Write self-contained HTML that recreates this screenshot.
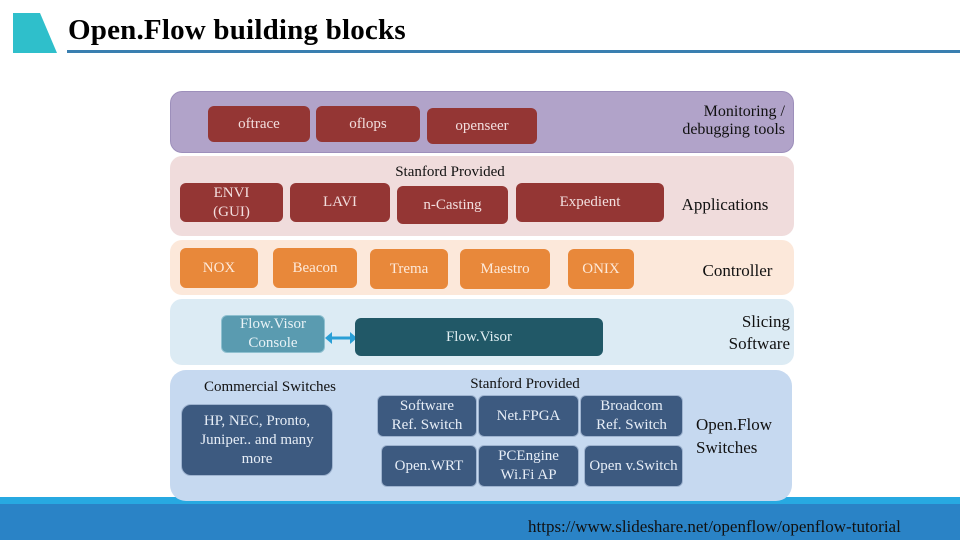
<!DOCTYPE html>
<html><head><meta charset="utf-8"><style>
body{margin:0;width:960px;height:540px;position:relative;background:#fff;overflow:hidden;font-family:"Liberation Serif",serif;}
div{position:absolute;box-sizing:border-box;}
.p{border-radius:12px;}
.b{border-radius:6px;display:flex;align-items:center;justify-content:center;text-align:center;font-size:15px;line-height:19px;}
.r{background:#943634;color:#f2dede;}
.o{background:#e8883a;color:#fde9d9;}
.s{background:#3d5a80;color:#e6edf6;border:1px solid #9fb4d0;}
.t{font-size:16px;color:#111;text-align:center;line-height:20px;}
</style></head><body>
<svg style="position:absolute;left:0;top:0" width="960" height="60"><polygon points="13,13 40,13 57,53 13,53" fill="#2fbfcb"/><rect x="67" y="50" width="893" height="3" fill="#3a7fb0"/></svg>
<div style="left:68px;top:14px;font-size:29px;font-weight:bold;color:#000;letter-spacing:0.2px">Open.Flow building blocks</div>

<div style="left:0;top:497px;width:960px;height:8px;background:#27a9e1"></div>
<div style="left:0;top:504px;width:960px;height:36px;background:#2a83c6"></div>
<div style="left:528px;top:517px;font-size:17px;color:#111;">https://www.slideshare.net/openflow/openflow-tutorial</div>

<div class="p" style="left:170px;top:91px;width:624px;height:62px;background:#b1a3c9;border:1px solid #9d8fbb"></div>
<div class="b r" style="left:208px;top:106px;width:102px;height:36px">oftrace</div>
<div class="b r" style="left:316px;top:106px;width:104px;height:36px">oflops</div>
<div class="b r" style="left:427px;top:108px;width:110px;height:36px">openseer</div>
<div class="t" style="left:640px;top:103px;width:145px;line-height:18px;text-align:right">Monitoring /<br>debugging tools</div>

<div class="p" style="left:170px;top:156px;width:624px;height:80px;background:#f0dcdc"></div>
<div class="t" style="left:370px;top:162px;width:160px;font-size:15px">Stanford Provided</div>
<div class="b r" style="left:180px;top:183px;width:103px;height:39px">ENVI<br>(GUI)</div>
<div class="b r" style="left:290px;top:183px;width:100px;height:39px">LAVI</div>
<div class="b r" style="left:397px;top:186px;width:111px;height:38px">n-Casting</div>
<div class="b r" style="left:516px;top:183px;width:148px;height:39px">Expedient</div>
<div class="t" style="left:660px;top:195px;width:130px;font-size:17px">Applications</div>

<div class="p" style="left:170px;top:240px;width:624px;height:55px;background:#fce8da"></div>
<div class="b o" style="left:180px;top:248px;width:78px;height:40px">NOX</div>
<div class="b o" style="left:273px;top:248px;width:84px;height:40px">Beacon</div>
<div class="b o" style="left:370px;top:249px;width:78px;height:40px">Trema</div>
<div class="b o" style="left:460px;top:249px;width:90px;height:40px">Maestro</div>
<div class="b o" style="left:568px;top:249px;width:66px;height:40px">ONIX</div>
<div class="t" style="left:680px;top:261px;width:115px;font-size:17px">Controller</div>

<div class="p" style="left:170px;top:299px;width:624px;height:66px;background:#dcebf4"></div>
<div class="b" style="left:221px;top:315px;width:104px;height:38px;background:#5a9bb0;color:#e8f2f6;border:1px solid #8fc0d0">Flow.Visor<br>Console</div>
<svg style="position:absolute;left:324px;top:330px" width="34" height="16"><line x1="5" y1="8" x2="29" y2="8" stroke="#2a9fd6" stroke-width="3"/><polygon points="1,8 8,2 8,14" fill="#2a9fd6"/><polygon points="33,8 26,2 26,14" fill="#2a9fd6"/></svg>
<div class="b" style="left:355px;top:318px;width:248px;height:38px;background:#215867;color:#e0eef2">Flow.Visor</div>
<div class="t" style="left:700px;top:311px;width:90px;text-align:right;font-size:17px;line-height:22px">Slicing<br>Software</div>

<div class="p" style="left:170px;top:370px;width:622px;height:131px;background:#c6d9f0;border-radius:16px"></div>
<div class="t" style="left:190px;top:377px;width:160px;font-size:15px">Commercial Switches</div>
<div class="b s" style="left:181px;top:404px;width:152px;height:72px;border-radius:10px">HP, NEC, Pronto,<br>Juniper.. and many<br>more</div>
<div class="t" style="left:445px;top:374px;width:160px;font-size:15px">Stanford Provided</div>
<div class="b s" style="left:377px;top:395px;width:100px;height:42px">Software<br>Ref. Switch</div>
<div class="b s" style="left:478px;top:395px;width:101px;height:42px">Net.FPGA</div>
<div class="b s" style="left:580px;top:395px;width:103px;height:42px">Broadcom<br>Ref. Switch</div>
<div class="b s" style="left:381px;top:445px;width:96px;height:42px">Open.WRT</div>
<div class="b s" style="left:478px;top:445px;width:101px;height:42px">PCEngine<br>Wi.Fi AP</div>
<div class="b s" style="left:584px;top:445px;width:99px;height:42px">Open v.Switch</div>
<div class="t" style="left:696px;top:413px;text-align:left;font-size:17px;line-height:23px">Open.Flow<br>Switches</div>
</body></html>
